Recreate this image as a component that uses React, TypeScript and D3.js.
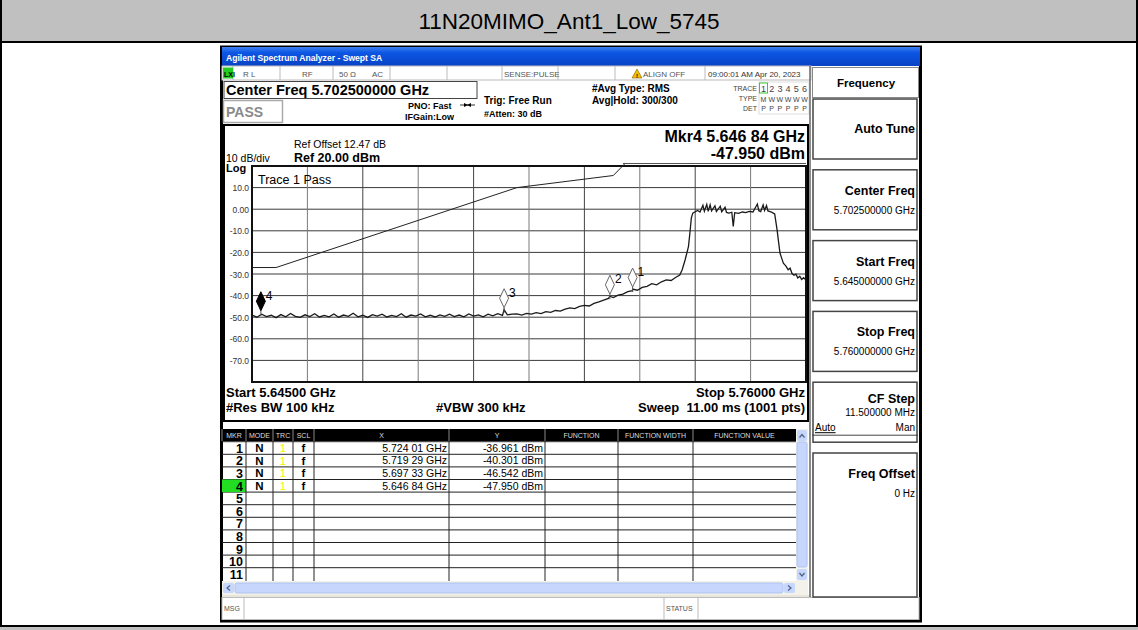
import React from 'react';
import * as d3 from 'd3';

const FONT = "'Liberation Sans', Arial, sans-serif";

// sweep settings
const startMHz = 5645;
const stopMHz = 5760;
const refDbm = 20;
const bottomDbm = -80;

const yTickValues = [10, 0, -10, -20, -30, -40, -50, -60, -70];
const yTickLabels = ['10.0', '0.00', '-10.0', '-20.0', '-30.0', '-40.0', '-50.0', '-60.0', '-70.0'];

// limit line (band edge mask)
const limitMHz = [5645, 5650, 5700, 5720, 5725, 5760];
const limitDbm = [-27, -27, 10, 15.6, 27, 27];

// trace 1 [MHz, dBm]
const noiseFloor: [number, number][] = [
  [5645, -49.0], [5646, -50.0], [5647, -48.6], [5648, -49.7], [5649, -49.1], [5650, -50.2],
  [5651, -48.8], [5652, -49.8], [5653, -48.3], [5654, -49.6], [5655, -50.1], [5656, -48.9],
  [5657, -49.7], [5658, -48.4], [5659, -49.9], [5660, -49.2], [5661, -49.8], [5662, -48.5],
  [5663, -50.0], [5664, -49.0], [5665, -49.6], [5666, -48.2], [5667, -49.8], [5668, -49.1],
  [5669, -50.1], [5670, -48.8], [5671, -49.5], [5672, -48.6], [5673, -49.9], [5674, -49.2],
  [5675, -49.7], [5676, -48.4], [5677, -50.0], [5678, -49.0], [5679, -49.5], [5680, -48.5],
  [5681, -49.8], [5682, -49.1], [5683, -49.9], [5684, -48.9], [5685, -49.6], [5686, -48.6],
  [5687, -49.7], [5688, -49.0], [5689, -49.8], [5690, -48.5], [5691, -49.5], [5692, -48.9],
  [5693, -49.8], [5694, -48.6], [5695, -49.4], [5696, -48.4], [5697, -49.2], [5697.33, -46.5],
  [5698, -48.9], [5699, -48.6],
];
const lowerSkirt: [number, number][] = [
  [5700, -48.5], [5701, -49.0], [5702, -48.2], [5703, -48.6], [5704, -47.9], [5705, -48.3],
  [5706, -47.4], [5707, -47.8], [5708, -46.9], [5709, -47.2], [5710, -46.3], [5711, -45.7],
  [5712, -46.0], [5713, -45.0], [5714, -44.5], [5715, -44.8], [5716, -43.6], [5717, -42.9],
  [5718, -42.1], [5719, -41.3], [5719.29, -40.3], [5720, -40.9], [5721, -39.8], [5722, -39.3],
  [5723, -38.2], [5724, -37.7], [5724.01, -37.0], [5725, -37.5], [5726, -36.2], [5727, -35.7],
  [5728, -34.5], [5729, -35.0], [5730, -33.6], [5731, -32.7], [5732, -33.0], [5733, -31.5],
];
const channel: [number, number][] = [
  [5733.8, -30.5], [5734.3, -28], [5734.9, -23.5], [5735.3, -20], [5735.6, -17.3], [5735.9, -11],
  [5736.2, -4], [5736.5, -1.8], [5737, -1.2], [5737.5, -0.6], [5738, -1.3], [5738.6, 1.8],
  [5738.9, -0.9], [5739.4, 2.2], [5739.7, -1.0], [5740.1, 2.0], [5740.4, -0.8], [5741.1, 1.6],
  [5741.4, -1.1], [5742.2, 1.4], [5742.5, -1.2], [5743.2, 0.9], [5743.5, -1.5], [5744, -1.8],
  [5744.6, -1.4], [5744.9, -8.0], [5745.2, -1.6], [5746, -1.9], [5746.8, -1.3], [5747.5, -1.6],
  [5748.2, -1.0], [5749, -1.3], [5749.9, 2.4], [5750.2, -0.7], [5750.6, -1.1], [5751.1, 2.0],
  [5751.4, -0.6], [5751.8, 1.7], [5752.1, -0.8], [5752.7, -1.2], [5753.2, -1.8], [5753.5, -2.2],
];
const upperSkirt: [number, number][] = [
  [5754, -9.6], [5754.3, -15], [5754.6, -20.3], [5755, -23], [5755.3, -25], [5755.8, -26.2],
  [5756.3, -28], [5756.7, -27.3], [5757.1, -29.8], [5757.5, -30.6], [5757.9, -30.1], [5758.3, -31.8],
  [5758.7, -31.0], [5759.1, -32.5], [5759.5, -31.7], [5760, -32.8],
];

// markers
const markerNums = [1, 2, 3, 4];
const markerMHz = [5724.01, 5719.29, 5697.33, 5646.84];
const markerDbm = [-36.961, -40.301, -46.542, -47.95];
const markerXText = ['5.724 01 GHz', '5.719 29 GHz', '5.697 33 GHz', '5.646 84 GHz'];
const markerYText = ['-36.961 dBm', '-40.301 dBm', '-46.542 dBm', '-47.950 dBm'];
const activeMarker = 4;

// soft keys on the right
const softkeyLabels = ['Auto Tune', 'Center Freq', 'Start Freq', 'Stop Freq', 'CF Step', 'Freq Offset'];
const softkeyValues = ['', '5.702500000 GHz', '5.645000000 GHz', '5.760000000 GHz', '11.500000 MHz', '0 Hz'];

const tableCols = [
  { x0: 222, x1: 246, label: 'MKR' },
  { x0: 246, x1: 273, label: 'MODE' },
  { x0: 273, x1: 293, label: 'TRC' },
  { x0: 293, x1: 314, label: 'SCL' },
  { x0: 314, x1: 449, label: 'X' },
  { x0: 449, x1: 545, label: 'Y' },
  { x0: 545, x1: 618, label: 'FUNCTION' },
  { x0: 618, x1: 693, label: 'FUNCTION WIDTH' },
  { x0: 693, x1: 796, label: 'FUNCTION VALUE' },
];

const plot = { left: 252, right: 806, top: 166, bottom: 382 };

const Graticule = () => {
  const x = d3.scaleLinear().domain([startMHz, stopMHz]).range([plot.left, plot.right]);
  const y = d3.scaleLinear().domain([bottomDbm, refDbm]).range([plot.bottom, plot.top]);
  const line = d3.line<[number, number]>().x(d => x(d[0])).y(d => y(d[1]));
  const trace = [...noiseFloor, ...lowerSkirt, ...channel, ...upperSkirt];
  const limit = limitMHz.map((f, i) => [f, limitDbm[i]] as [number, number]);
  const xDivs = d3.range(11).map(i => startMHz + (i * (stopMHz - startMHz)) / 10);

  return (
    <g>
      <defs>
        <clipPath id="plotClip">
          <rect x={plot.left} y={plot.top - 2} width={plot.right - plot.left} height={plot.bottom - plot.top + 2} />
        </clipPath>
      </defs>
      {/* grid */}
      {yTickValues.map(v => (
        <line key={'h' + v} x1={plot.left} x2={plot.right} y1={y(v)} y2={y(v)} stroke="#3a3a3a" strokeWidth={1} />
      ))}
      {xDivs.slice(1, -1).map((f, i) => (
        <line key={'v' + i} x1={x(f)} x2={x(f)} y1={plot.top} y2={plot.bottom} stroke={i % 2 ? '#444' : '#7a7a7a'} strokeWidth={1} />
      ))}
      <rect x={plot.left} y={plot.top} width={plot.right - plot.left} height={plot.bottom - plot.top} fill="none" stroke="#111" strokeWidth={2} />
      {/* y labels */}
      {yTickValues.map((v, i) => (
        <text key={'t' + v} x={plot.left - 3} y={y(v) + 3.5} textAnchor="end" fontSize={8.5} fill="#333">{yTickLabels[i]}</text>
      ))}
      <text x={226} y={172} fontSize={11} fontWeight="bold">Log</text>
      <text x={258} y={184} fontSize={12.5}>Trace 1 Pass</text>

      <g clipPath="url(#plotClip)">
        <path d={line(limit) ?? ''} fill="none" stroke="#222" strokeWidth={1} />
        <path d={line(trace) ?? ''} fill="none" stroke="#1a1a1a" strokeWidth={1.3} />
      </g>
      <line x1={x(5722)} x2={plot.right} y1={plot.top - 2.5} y2={plot.top - 2.5} stroke="#555" strokeWidth={1} />

      {/* markers */}
      {markerNums.map((n, i) => {
        const mx = x(markerMHz[i]);
        const tip = y(markerDbm[i]) - 2;
        const active = n === activeMarker;
        return (
          <g key={'m' + n}>
            <line x1={mx} x2={mx} y1={tip} y2={tip + 5} stroke="#555" strokeWidth={1} />
            <path
              d={`M${mx},${tip} L${mx + 4.5},${tip - 9.5} L${mx},${tip - 19} L${mx - 4.5},${tip - 9.5} Z`}
              fill={active ? '#000' : '#fff'}
              stroke={active ? '#000' : '#666'}
              strokeWidth={1}
            />
            <text x={mx + 5} y={tip - 11} fontSize={12} fill="#000">{n}</text>
          </g>
        );
      })}
    </g>
  );
};

const App = () => {
  const rowTop = (i: number) => 441.7 + i * 12.6;
  return (
    <div style={{ position: 'absolute', left: 0, top: 0 }}>
      <svg width={1138} height={630} style={{ display: 'block', fontFamily: FONT }}>
        <defs>
          <linearGradient id="xpBar" x1="0" x2="0" y1="0" y2="1">
            <stop offset="0" stopColor="#3d7ff0" />
            <stop offset="0.3" stopColor="#0c56e4" />
            <stop offset="1" stopColor="#0842c4" />
          </linearGradient>
        </defs>
        {/* report cell */}
        <rect x={0} y={0} width={1138} height={630} fill="#fff" />
        <rect x={0} y={0} width={1138} height={41} fill="#c0c0c0" />
        <line x1={0} x2={1138} y1={42} y2={42} stroke="#000" strokeWidth={2} />
        <line x1={1} x2={1} y1={0} y2={627} stroke="#000" strokeWidth={2} />
        <line x1={1137} x2={1137} y1={0} y2={627} stroke="#000" strokeWidth={2} />
        <rect x={0} y={627} width={1138} height={3} fill="#c0c0c0" />
        <line x1={0} x2={1138} y1={626} y2={626} stroke="#000" strokeWidth={2} />
        <text x={569} y={29} textAnchor="middle" fontSize={22.5}>11N20MIMO_Ant1_Low_5745</text>

        {/* analyzer window */}
        <rect x={221.5} y={47} width={699} height={574} fill="#fff" stroke="#000" strokeWidth={3} />
        <rect x={222} y={47} width={698} height={19} fill="url(#xpBar)" />
        <text x={226} y={61} fontSize={8.6} fontWeight="bold" fill="#fff">Agilent Spectrum Analyzer - Swept SA</text>

        {/* status row */}
        <rect x={222} y={66} width={589} height={14} fill="#fff" stroke="#bbb" strokeWidth={1} />
        {[233, 280, 333, 390, 447, 502, 558, 615, 705].map(sx => (
          <line key={'s' + sx} x1={sx} x2={sx} y1={66} y2={80} stroke="#bbb" />
        ))}
        <rect x={223} y={67.5} width={10} height={11} fill="#22cc22" />
        <text x={224} y={76.5} fontSize={7} fontWeight="bold">LXI</text>
        <g fontSize={8} fill="#555">
          <text x={243} y={76.5}>R L</text>
          <text x={302} y={76.5}>RF</text>
          <text x={339} y={76.5}>50 Ω</text>
          <text x={372} y={76.5}>AC</text>
          <text x={504} y={76.5}>SENSE:PULSE</text>
          <text x={643} y={76.5}>ALIGN OFF</text>
          <text x={708} y={76.5} fill="#333">09:00:01 AM Apr 20, 2023</text>
        </g>
        <path d="M637,69 L642,78 L632,78 Z" fill="#f0c000" stroke="#806000" strokeWidth={0.6} />
        <text x={637} y={77.5} textAnchor="middle" fontSize={6} fontWeight="bold">!</text>

        {/* settings area */}
        <rect x={224} y={81.5} width={253} height={17} fill="#fff" stroke="#444" strokeWidth={1} />
        <text x={226} y={95} fontSize={14.5} fontWeight="bold">Center Freq 5.702500000 GHz</text>
        <rect x={223.5} y={100.5} width={59} height={22} fill="#fff" stroke="#aaa" strokeWidth={1.5} />
        <text x={226} y={117} fontSize={14} fontWeight="bold" fill="#8a8a8a">PASS</text>
        <g fontSize={9} fontWeight="bold">
          <text x={408} y={108.5}>PNO: Fast</text>
          <text x={405} y={120}>IFGain:Low</text>
          <text x={484} y={104} fontSize={10}>Trig: Free Run</text>
          <text x={484} y={117}>#Atten: 30 dB</text>
          <text x={592} y={92} fontSize={10}>#Avg Type: RMS</text>
          <text x={592} y={104} fontSize={10}>Avg|Hold: 300/300</text>
        </g>
        <line x1={460} x2={475} y1={105} y2={105} stroke="#000" strokeWidth={0.8} />
        <path d="M464,103 L468,105 L464,107 Z M471,103 L467,105 L471,107 Z" fill="#000" />
        {/* trace table */}
        <rect x={759} y={82} width={50} height={32} fill="#fff" stroke="#ddd" />
        <g fontSize={7} fill="#444" textAnchor="end">
          <text x={757} y={91}>TRACE</text>
          <text x={757} y={101}>TYPE</text>
          <text x={757} y={111}>DET</text>
        </g>
        <rect x={759.5} y={83} width={8} height={10} fill="#fff" stroke="#3c3" strokeWidth={1} />
        {[1, 2, 3, 4, 5, 6].map((n, i) => (
          <g key={'tr' + n} fill="#444" textAnchor="middle">
            <text x={763.5 + i * 8.2} y={92} fontSize={9}>{n}</text>
            <text x={763.5 + i * 8.2} y={101.5} fontSize={7}>{i === 0 ? 'M' : 'W'}</text>
            <text x={763.5 + i * 8.2} y={111} fontSize={7}>P</text>
          </g>
        ))}

        {/* plot frame */}
        <rect x={224} y={125} width={584} height={296} fill="none" stroke="#000" strokeWidth={2} />
        <text x={805} y={142} textAnchor="end" fontSize={16} fontWeight="bold">Mkr4 5.646 84 GHz</text>
        <text x={805} y={159} textAnchor="end" fontSize={16} fontWeight="bold">-47.950 dBm</text>
        <text x={294} y={148} fontSize={10.5}>Ref Offset 12.47 dB</text>
        <text x={226} y={162} fontSize={10.5}>10 dB/div</text>
        <text x={294} y={162} fontSize={12.5} fontWeight="bold">Ref 20.00 dBm</text>
        <Graticule />
        <g fontSize={13} fontWeight="bold">
          <text x={226} y={397}>Start 5.64500 GHz</text>
          <text x={226} y={412}>#Res BW 100 kHz</text>
          <text x={436} y={412}>#VBW 300 kHz</text>
          <text x={805} y={397} textAnchor="end">Stop 5.76000 GHz</text>
          <text x={805} y={412} textAnchor="end" xmlSpace="preserve">{'Sweep \u00a011.00 ms (1001 pts)'}</text>
        </g>

        {/* marker table */}
        <rect x={222} y={429} width={574} height={12} fill="#000" />
        {tableCols.map(c => (
          <g key={c.label}>
            <line x1={c.x0} x2={c.x0} y1={429} y2={441} stroke="#888" />
            <text x={(c.x0 + c.x1) / 2} y={438} textAnchor="middle" fontSize={7} fill="#ddd">{c.label}</text>
          </g>
        ))}
        {d3.range(11).map(i => (
          <line key={'rl' + i} x1={222} x2={796} y1={rowTop(i)} y2={rowTop(i)} stroke="#222" strokeWidth={1} />
        ))}
        <rect x={222} y={rowTop(3)} width={24} height={12.6} fill="#22dd22" />
        {tableCols.slice(1).map(c => (
          <line key={'cl' + c.label} x1={c.x0} x2={c.x0} y1={441} y2={581} stroke="#222" />
        ))}
        {d3.range(11).map(i => (
          <text key={'rn' + i} x={243} y={rowTop(i) + 11} textAnchor="end" fontSize={12.5} fontWeight="bold">{i + 1}</text>
        ))}
        {markerNums.map((n, i) => (
          <g key={'row' + n} fontSize={11.5}>
            <text x={259.5} y={rowTop(i) + 10.5} textAnchor="middle" fontWeight="bold">N</text>
            <text x={283} y={rowTop(i) + 10.5} textAnchor="middle" fill="#f2f200">1</text>
            <text x={303.5} y={rowTop(i) + 10.5} textAnchor="middle" fontWeight="bold">f</text>
            <text x={447} y={rowTop(i) + 10} textAnchor="end" fontSize={10.5}>{markerXText[i]}</text>
            <text x={543} y={rowTop(i) + 10} textAnchor="end" fontSize={10.5}>{markerYText[i]}</text>
          </g>
        ))}
        {/* scroll bars */}
        <rect x={796} y={429} width={12} height={153} fill="#f2f1ea" />
        <rect x={797} y={442} width={10} height={125} rx={2} fill="#c6d6fc" stroke="#b0c4f2" />
        <rect x={797} y={430} width={10} height={11} rx={2} fill="#c6d6fc" />
        <rect x={797} y={569} width={10} height={11} rx={2} fill="#c6d6fc" />
        <path d="M799.5,437.5 L802,434.5 L804.5,437.5" fill="none" stroke="#4d6185" strokeWidth={1.2} />
        <path d="M799.5,573 L802,576 L804.5,573" fill="none" stroke="#4d6185" strokeWidth={1.2} />
        <rect x={222} y={581} width={586} height={14} fill="#f2f1ea" />
        <rect x={235} y={583} width={548} height={10} rx={2} fill="#c6d6fc" stroke="#b0c4f2" />
        <rect x={223} y={583} width={11} height={10} rx={2} fill="#c6d6fc" />
        <rect x={784} y={583} width={11} height={10} rx={2} fill="#c6d6fc" />
        <path d="M230,585.5 L227,588 L230,590.5" fill="none" stroke="#4d6185" strokeWidth={1.2} />
        <path d="M788,585.5 L791,588 L788,590.5" fill="none" stroke="#4d6185" strokeWidth={1.2} />
        <rect x={222} y={595} width={589} height={3} fill="#e8e6dc" />
        {/* message bar */}
        <rect x={222} y={597.5} width={697} height={22} fill="#fff" stroke="#bbb" />
        <line x1={244} x2={244} y1={598} y2={619} stroke="#bbb" />
        <line x1={664} x2={664} y1={598} y2={619} stroke="#bbb" />
        <line x1={698} x2={698} y1={598} y2={619} stroke="#bbb" />
        <text x={224} y={611} fontSize={7} fill="#555">MSG</text>
        <text x={666} y={611} fontSize={7} fill="#555">STATUS</text>

        {/* soft key panel */}
        <line x1={810} x2={810} y1={66} y2={597} stroke="#666" strokeWidth={1.5} />
        <rect x={812.5} y={67.5} width={106} height={30} fill="#fff" stroke="#888" />
        <text x={866} y={87} textAnchor="middle" fontSize={11.5} fontWeight="bold">Frequency</text>
        {softkeyLabels.map((lab, i) => {
          const top = 99 + i * 70.8;
          const h = i === 5 ? 597 - top : 60;
          return (
            <g key={lab}>
              <rect x={813} y={top} width={104} height={h} fill="#fff" stroke="#444" strokeWidth={1.5} />
              {i === 0 && <text x={915} y={top + 34} textAnchor="end" fontSize={12.5} fontWeight="bold">{lab}</text>}
              {i > 0 && i !== 4 && (
                <>
                  <text x={915} y={top + 25} textAnchor="end" fontSize={12.5} fontWeight="bold">{lab}</text>
                  <text x={915} y={top + 44} textAnchor="end" fontSize={10}>{softkeyValues[i]}</text>
                </>
              )}
              {i === 4 && (
                <>
                  <text x={915} y={top + 21} textAnchor="end" fontSize={12.5} fontWeight="bold">{lab}</text>
                  <text x={915} y={top + 34} textAnchor="end" fontSize={10}>{softkeyValues[i]}</text>
                  <text x={815} y={top + 49} fontSize={10} textDecoration="underline">Auto</text>
                  <text x={915} y={top + 49} textAnchor="end" fontSize={10}>Man</text>
                  <line x1={812} x2={918} y1={top + 53} y2={top + 53} stroke="#444" />
                </>
              )}
            </g>
          );
        })}
      </svg>
    </div>
  );
};

export default App;
